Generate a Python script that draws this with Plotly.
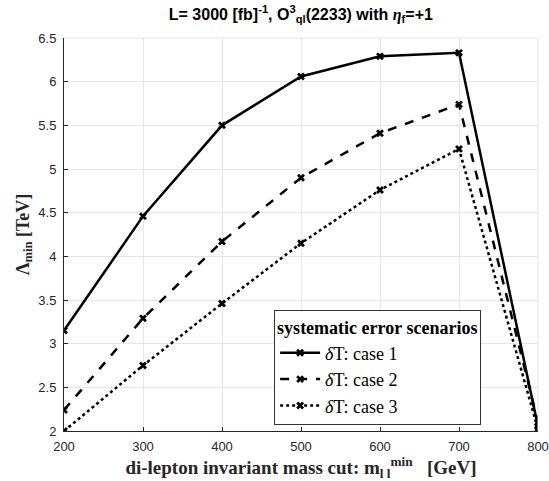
import plotly.graph_objects as go

mass_cut = [200, 300, 400, 500, 600, 700, 800]
case1 = [3.15, 4.46, 5.50, 6.06, 6.29, 6.33, 2.05]
case2 = [2.24, 3.29, 4.17, 4.90, 5.41, 5.74, 2.10]
case3 = [2.00, 2.75, 3.46, 4.15, 4.76, 5.23, 2.02]
names = ["<i>δ</i>T: case 1", "<i>δ</i>T: case 2", "<i>δ</i>T: case 3"]
dashes = ["solid", "dash", "dot"]
x_ticks = [200, 300, 400, 500, 600, 700, 800]
y_ticks = [2, 2.5, 3, 3.5, 4, 4.5, 5, 5.5, 6, 6.5]

fig = go.Figure()
for vals, nm, ds in zip([case1, case2, case3], names, dashes):
    fig.add_trace(go.Scatter(
        x=mass_cut, y=vals, name=nm, mode="lines+markers",
        line=dict(color="black", width=2.5, dash=ds),
        marker=dict(symbol="x", size=7, color="black"),
    ))

serif = "Liberation Serif, Times New Roman, serif"
sans = "Liberation Sans, Arial, sans-serif"

fig.update_layout(
    width=549, height=481,
    margin=dict(l=64, r=11, t=38, b=50, autoexpand=False),
    paper_bgcolor="white", plot_bgcolor="white",
    title=dict(
        text="<b>L= 3000 [fb]<sup>-1</sup>, O<sup>3</sup><sub>ql</sub>(2233) with "
             "<span style='font-family:Liberation Serif'><i>η</i></span><sub>f</sub>=+1</b>",
        x=0.548, xanchor="center", y=0.97, yanchor="middle",
        font=dict(family=sans, size=16, color="black"),
    ),
    showlegend=True,
    legend=dict(
        title=dict(text="<b>systematic error scenarios</b>",
                   font=dict(family=serif, size=18, color="black"), side="top"),
        font=dict(family=serif, size=18, color="black"),
        x=0.88, xanchor="right", y=0.015, yanchor="bottom",
        bgcolor="white", bordercolor="#333333", borderwidth=1,
        itemwidth=40, tracegroupgap=0,
    ),
    xaxis=dict(
        range=[200, 800], tickvals=x_ticks, ticks="inside", ticklen=4,
        tickcolor="#262626", showline=True, linecolor="#262626", linewidth=1,
        showgrid=True, gridcolor="#e6e6e6", zeroline=False, automargin=False,
        tickfont=dict(family=sans, size=13, color="#262626"),
        ticklabelstandoff=3,
        title=dict(text="<b>di-lepton invariant mass cut: m<sub>l l</sub><sup>min</sup>   [GeV]</b>",
                   font=dict(family=serif, size=19, color="#262626"), standoff=2),
    ),
    yaxis=dict(
        range=[2, 6.5], tickvals=y_ticks, ticks="inside", ticklen=4,
        tickcolor="#262626", showline=True, linecolor="#262626", linewidth=1,
        showgrid=True, gridcolor="#e6e6e6", zeroline=False, automargin=False,
        tickfont=dict(family=sans, size=13, color="#262626"),
        ticklabelstandoff=4,
        title=dict(text="<b>Λ<sub>min</sub> [TeV]</b>",
                   font=dict(family=serif, size=18, color="#262626"), standoff=4),
    ),
)
fig.add_shape(type="line", xref="x domain", yref="y domain",
              x0=1, x1=1, y0=0, y1=1, line=dict(color="#e6e6e6", width=1))
fig.add_shape(type="line", xref="x domain", yref="y domain",
              x0=0, x1=1, y0=1, y1=1, line=dict(color="#e6e6e6", width=1))
# separator under the legend title
fig.add_shape(type="line", xref="paper", yref="paper",
              x0=0.445, x1=0.88, y0=0.226, y1=0.226,
              line=dict(color="#333333", width=1))

fig.write_html("out.html", config={"displayModeBar": False},
               post_script="document.body.style.margin='0px';")
